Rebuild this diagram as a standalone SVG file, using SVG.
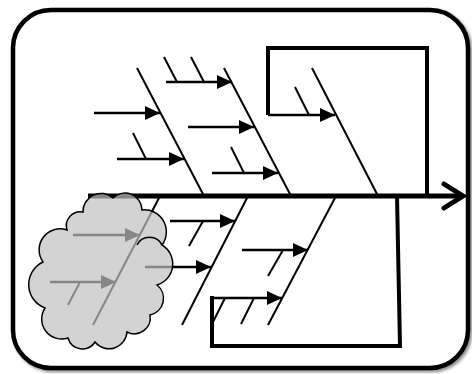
<svg xmlns="http://www.w3.org/2000/svg" width="472" height="374" viewBox="0 0 472 374">
  <defs>
    <marker id="ah" markerUnits="userSpaceOnUse" markerWidth="16" markerHeight="16" refX="15" refY="7" orient="auto">
      <path d="M0,0 L15,7 L0,14 z" fill="#000"/>
    </marker>
    <filter id="sh" x="-5%" y="-5%" width="115%" height="115%">
      <feDropShadow dx="2" dy="2" stdDeviation="1.5" flood-color="#000" flood-opacity="0.45"/>
    </filter>
  </defs>
  <style>
    .frame { fill: #fff; stroke: #000; stroke-width: 4.5; }
    .bone { stroke: #000; stroke-width: 2; fill: none; stroke-linecap: butt; }
    .tick { stroke: #000; stroke-width: 2; fill: none; }
    .arr { stroke: #000; stroke-width: 2.5; fill: none; marker-end: url(#ah); }
    .box { stroke: #000; stroke-width: 4; fill: none; stroke-linejoin: miter; }
    .spine { stroke: #000; stroke-width: 5; fill: none; }
    .cloud { fill: #c0c0c0; fill-opacity: 0.7; stroke: #000; stroke-width: 1.5; }
  </style>

  <g id="frame">
    <rect class="frame" x="13" y="10" width="455" height="358" rx="38" ry="38" filter="url(#sh)"/>
  </g>

  <g id="connectors">
    <!-- spine -->
    <line class="spine" x1="88" y1="196" x2="462" y2="196"/>
    <polyline class="spine" points="444,184 463,196 444,208" stroke-linecap="round" stroke-linejoin="miter"/>

    <!-- upper bones -->
    <line class="bone" x1="137" y1="68" x2="204" y2="196"/>
    <line class="bone" x1="224" y1="68" x2="291" y2="196"/>
    <line class="bone" x1="312" y1="68" x2="378" y2="196"/>

    <!-- lower bones -->
    <line class="bone" x1="160" y1="196" x2="93" y2="325"/>
    <line class="bone" x1="248" y1="196" x2="182" y2="325"/>
    <line class="bone" x1="336" y1="196" x2="268" y2="325"/>

    <!-- bone 1 arrows -->
    <line class="arr" x1="94" y1="113" x2="160" y2="113"/>
    <line class="arr" x1="117" y1="159" x2="184" y2="159"/>
    <line class="tick" x1="133" y1="133" x2="146" y2="159"/>

    <!-- bone 2 arrows -->
    <line class="arr" x1="166" y1="82" x2="232" y2="82"/>
    <line class="tick" x1="164" y1="57" x2="177" y2="82"/>
    <line class="tick" x1="191" y1="57" x2="204" y2="82"/>
    <line class="arr" x1="188" y1="127" x2="254" y2="127"/>
    <line class="arr" x1="212" y1="173" x2="278" y2="173"/>
    <line class="tick" x1="231" y1="147" x2="244" y2="173"/>

    <!-- bone 3 (top box) -->
    <path class="box" d="M268,115 V48 H427 V196"/>
    <line class="arr" x1="268" y1="115" x2="335" y2="115"/>
    <line class="tick" x1="295" y1="87" x2="309" y2="115"/>

    <!-- bone 4 arrows (in cloud) -->
    <line class="arr" x1="73" y1="235" x2="140" y2="235"/>
    <line class="arr" x1="50" y1="282" x2="116" y2="282"/>
    <line class="tick" x1="80" y1="282" x2="68" y2="305"/>

    <!-- bone 5 arrows -->
    <line class="arr" x1="170" y1="221" x2="235" y2="221"/>
    <line class="tick" x1="203" y1="221" x2="189" y2="246"/>
    <line class="arr" x1="145" y1="267" x2="211" y2="267"/>

    <!-- bone 6 arrows -->
    <line class="arr" x1="242" y1="250" x2="308" y2="250"/>
    <line class="tick" x1="283" y1="250" x2="268" y2="276"/>
    <line class="arr" x1="212" y1="298" x2="282" y2="298"/>
    <line class="tick" x1="225" y1="298" x2="213" y2="322"/>
    <line class="tick" x1="254" y1="298" x2="241" y2="324"/>

    <!-- bottom box -->
    <path class="box" d="M212,296 V346 H400 L397,196"/>
  </g>

  <g id="cloud">
    <path class="cloud" d="M83,212
      A18,18 0 0 1 113,198
      A17,17 0 0 1 142,210
      A22,22 0 0 1 162,245
      A22,22 0 0 1 157,285
      A17,17 0 0 1 150,315
      A16,16 0 0 1 127,332
      A18,18 0 0 1 95,342
      A15,15 0 0 1 68,338
      A20,20 0 0 1 45,308
      A25,25 0 0 1 43,262
      A21,21 0 0 1 67,230
      A14,14 0 0 1 83,212 z"/>
    <path d="M137,245 A14,14 0 0 1 162,245" fill="none" stroke="#000" stroke-width="1.5"/>
  </g>
</svg>
